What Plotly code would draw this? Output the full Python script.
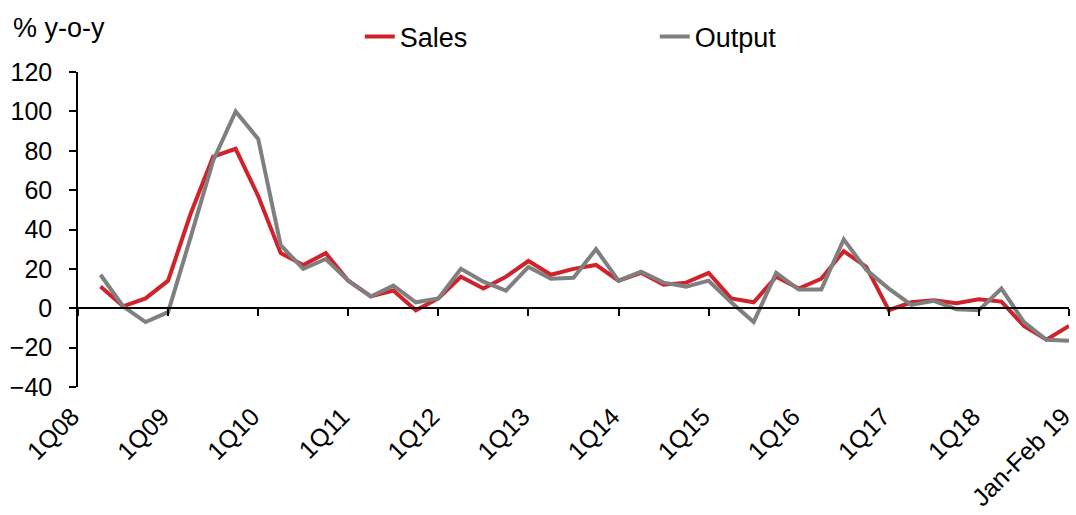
import plotly.graph_objects as go

quarters = [f"{q}Q{y:02d}" for y in range(8, 19) for q in range(1, 5)]
categories = quarters + ["Jan-Feb 19"]

sales = [None, 11, 1, 5, 14, 48, 77, 81, 57, 28, 22, 28, 14, 6, 9, -1, 5, 16, 10, 16,
         24, 17, 20, 22, 14, 18, 12, 13, 18, 5, 3, 16, 10, 15, 29, 21, -1, 3, 4, 2.5,
         4.6, 3.4, -9, -16, -9]
output = [None, 17, 1, -7, -2, 36, 75, 100, 86, 32, 20, 25, 14, 6, 11.5, 3, 5, 20, 13.5, 9,
          21, 15, 15.5, 30, 14, 18.6, 13, 11, 14, 3, -7, 18, 9.5, 9.5, 35, 19.5, 10, 1.7, 3.8, -0.5,
          -1, 10, -7, -16, -16.5]

tick_labels = [c for c in categories if c.startswith("1Q")] + ["Jan-Feb 19"]

xs = list(range(len(categories)))
tick_pos = [categories.index(t) for t in tick_labels]

FONT = "Liberation Sans, Arial, sans-serif"
RED = "#D0222A"
GREY = "#7F7F7F"

fig = go.Figure()
fig.add_trace(go.Scatter(x=xs, y=sales, mode="lines", name="Sales",
                         line=dict(color=RED, width=4)))
fig.add_trace(go.Scatter(x=xs, y=output, mode="lines", name="Output",
                         line=dict(color=GREY, width=4)))
# helper trace for the zero-line axis
fig.add_trace(go.Scatter(x=xs, y=[0] * len(xs), mode="lines", xaxis="x2",
                         line=dict(color="rgba(0,0,0,0)", width=0),
                         showlegend=False, hoverinfo="skip"))

ymin, ymax = -40, 120
fig.update_layout(
    width=1076, height=515,
    margin=dict(l=78, r=7, t=72, b=128, autoexpand=False),
    paper_bgcolor="white", plot_bgcolor="white",
    font=dict(family=FONT, size=24, color="#000000"),
    showlegend=True,
    legend=dict(orientation="h", x=0.582, xanchor="center", y=1 - 37 / 515, yanchor="middle",
                yref="container", font=dict(size=27), entrywidth=250,
                itemwidth=30, bgcolor="rgba(0,0,0,0)"),
    xaxis=dict(range=[0, 44], tickmode="array", tickvals=tick_pos, ticktext=tick_labels,
               tickangle=-45, showline=False, ticks="", showgrid=False, zeroline=False,
               ticklabelstandoff=9, ticklabelshift=-6, tickfont=dict(size=25),
               automargin=False, ticklabeloverflow="allow"),
    xaxis2=dict(range=[0, 44], overlaying="x", anchor="free",
                position=(0 - ymin) / (ymax - ymin), side="bottom",
                tickmode="array", tickvals=tick_pos, showticklabels=False,
                showline=True, linecolor="#000000", linewidth=1.5,
                ticks="outside", ticklen=7, tickcolor="#000000", tickwidth=1.5,
                showgrid=False, zeroline=False, automargin=False),
    yaxis=dict(range=[ymin, ymax], dtick=20, tick0=0, showline=True, linecolor="#000000",
               linewidth=1.5, ticks="outside", ticklen=7, tickcolor="#000000",
               tickwidth=1.5, showgrid=False, zeroline=False, ticklabelstandoff=12,
               tickfont=dict(size=25), automargin=False),
    annotations=[dict(text="% y-o-y", xref="paper", yref="paper", x=-0.068, y=1.14,
                      xanchor="left", yanchor="middle", showarrow=False,
                      font=dict(size=27))],
)

fig.write_html("out.html", config={"displayModeBar": False},
               post_script="document.body.style.margin='0';document.body.style.padding='0';")
